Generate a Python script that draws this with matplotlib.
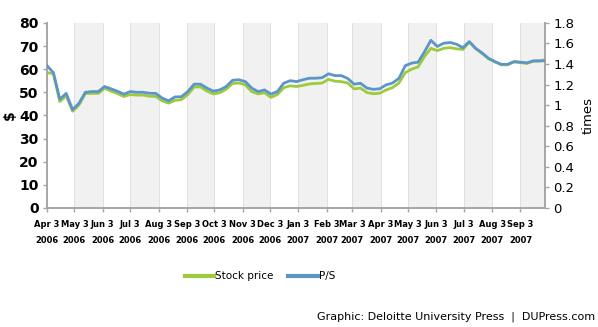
import matplotlib.pyplot as plt
from matplotlib.lines import Line2D
import pandas as pd

# weekly closes, Apr 2006 - Sep 2007
stock_price = [58.5, 58.0, 46.0, 48.5, 41.8, 44.5, 49.5, 49.5, 49.5, 51.8,
               50.5, 49.5, 48.2, 49.0, 48.8, 48.8, 48.3, 48.2, 46.3, 45.3,
               46.5, 46.8, 49.0, 52.3, 52.3, 50.5, 49.3, 49.8, 51.3, 53.8,
               54.0, 53.2, 50.3, 49.3, 49.8, 47.8, 49.0, 52.0, 52.8, 52.5,
               53.0, 53.6, 53.8, 54.0, 55.6, 54.8, 54.6, 54.0, 51.5, 51.8,
               49.9, 49.4, 49.6, 51.0, 52.0, 54.0, 58.5, 60.0, 61.0, 65.5,
               69.0, 68.0, 69.0, 69.3, 68.8, 68.5, 71.7, 68.8, 66.8, 64.5,
               63.1, 61.9, 61.9, 63.1, 62.8, 62.5, 63.4, 63.5, 64.2]
ps_ratio = [1.384, 1.316, 1.058, 1.114, 0.956, 1.019, 1.125, 1.132, 1.132, 1.181,
            1.159, 1.136, 1.107, 1.132, 1.125, 1.125, 1.116, 1.114, 1.069, 1.042,
            1.080, 1.082, 1.132, 1.204, 1.204, 1.166, 1.136, 1.148, 1.181, 1.242,
            1.247, 1.229, 1.166, 1.132, 1.148, 1.107, 1.132, 1.213, 1.238, 1.229,
            1.247, 1.262, 1.262, 1.267, 1.305, 1.287, 1.287, 1.260, 1.204, 1.213,
            1.166, 1.154, 1.159, 1.197, 1.215, 1.260, 1.384, 1.409, 1.418, 1.519,
            1.631, 1.571, 1.602, 1.609, 1.593, 1.559, 1.618, 1.553, 1.508, 1.456,
            1.424, 1.397, 1.397, 1.424, 1.418, 1.411, 1.431, 1.431, 1.431]
dates = pd.date_range('2006-04-03', periods=len(stock_price), freq='7D')

month_ticks = pd.date_range('2006-04-01', '2007-09-01', freq='MS') + pd.Timedelta(days=2)
tick_labels = [d.strftime('%b ') + str(d.day) + '\n' + d.strftime('%Y') for d in month_ticks]
x_end = pd.Timestamp('2007-09-30')

green = '#9dcb3b'
blue = '#5b95c9'
gray = '#a6a6a6'

fig = plt.figure(figsize=(5.98, 3.27), dpi=100)
ax = fig.add_axes([0.0786, 0.364, 0.833, 0.566])
ax2 = ax.twinx()

# alternating shaded months
edges = list(month_ticks) + [x_end]
for i in range(1, len(edges) - 1, 2):
    ax.axvspan(edges[i], edges[i + 1], color='#f1f1f1', zorder=0, lw=0)
for d in month_ticks[1:]:
    ax.axvline(d, color='#dcdcdc', lw=0.6, zorder=0)

ax.plot(dates, stock_price, color=green, lw=2.0, zorder=3)
ax2.plot(dates, ps_ratio, color=blue, lw=2.0, zorder=4)

ax.set_xlim(month_ticks[0], x_end)
ax.set_ylim(0, 80)
ax2.set_ylim(0, 1.8)
ax.set_yticks(range(0, 81, 10))
ax2.set_yticks([0, 0.2, 0.4, 0.6, 0.8, 1, 1.2, 1.4, 1.6, 1.8])
ax2.set_yticklabels(['0', '0.2', '0.4', '0.6', '0.8', '1', '1.2', '1.4', '1.6', '1.8'])

ax.set_xticks(month_ticks)
ax.set_xticklabels(tick_labels, fontsize=6, fontweight='bold', linespacing=1.9)

for a in (ax, ax2):
    a.spines['top'].set_visible(False)
    for s in ('left', 'right', 'bottom'):
        a.spines[s].set_color(gray)
        a.spines[s].set_linewidth(1.2)
    a.tick_params(color=gray, length=3, width=1)
ax.tick_params(axis='y', labelsize=10, pad=3)
ax2.tick_params(axis='y', labelsize=9.5, pad=3)
ax.tick_params(axis='x', pad=6)
for lab in ax.get_yticklabels():
    lab.set_fontweight('semibold')
ax2.set_zorder(ax.get_zorder() + 1)
ax2.patch.set_visible(False)

ax.set_ylabel('$', fontsize=10, fontweight='semibold', labelpad=2)
ax2.set_ylabel('times', fontsize=9.5, labelpad=5)

handles = [Line2D([], [], color=green, lw=3), Line2D([], [], color=blue, lw=3)]
fig.legend(handles, ['Stock price', 'P/S'], loc='center', bbox_to_anchor=(0.435, 0.155),
           ncol=2, frameon=False, fontsize=7.5, handlelength=2.8, handletextpad=0.1,
           columnspacing=1.4)

fig.text(0.995, 0.032, 'Graphic: Deloitte University Press  |  DUPress.com',
         ha='right', va='center', fontsize=8)

fig.savefig('out.png', dpi=100)
